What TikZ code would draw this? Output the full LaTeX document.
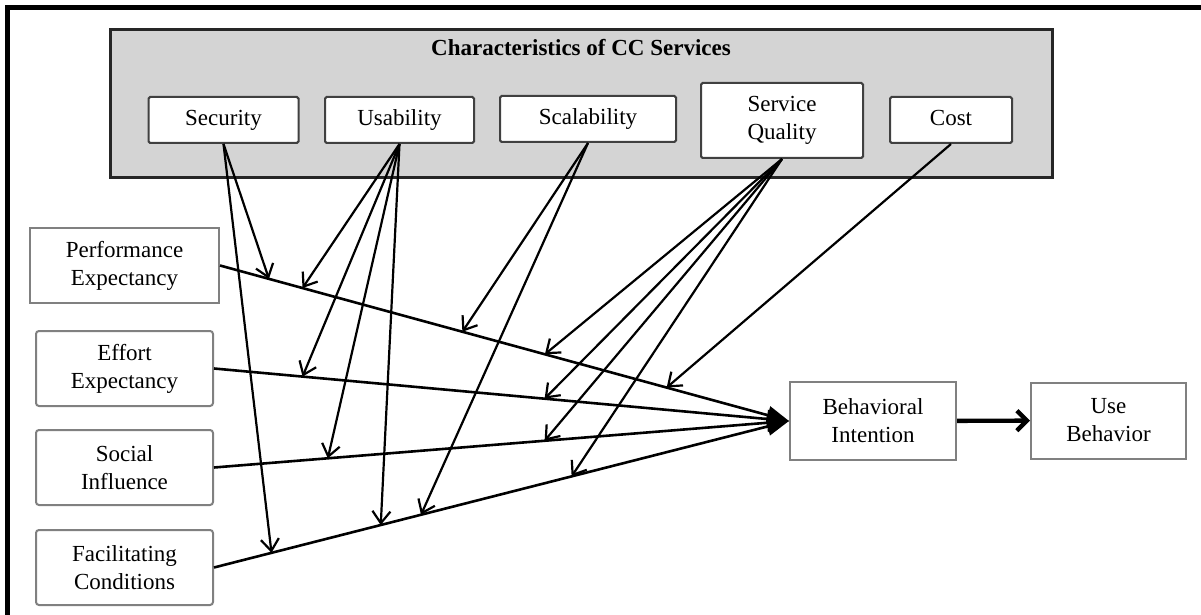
\documentclass[tikz,border=0pt]{standalone}
\usepackage{fontspec}
\setmainfont{Liberation Serif}
\usetikzlibrary{arrows.meta}

\begin{document}
\begin{tikzpicture}[
    x=0.5pt, y=-0.5pt,
    construct/.style={
        draw=black!50,
        line width=1pt,
        align=center,
        inner sep=0pt,
        font=\fontsize{11.5}{14}\selectfont
    },
    trait/.style={
        draw=black!75,
        fill=white,
        line width=1pt,
        rounded corners=0.8pt,
        align=center,
        inner sep=0pt,
        minimum height=23pt,
        text height=8pt,
        text depth=2.5pt,
        font=\fontsize{11.5}{14}\selectfont
    },
    group/.style={draw=black!85, fill=black!17, line width=1.5pt, inner sep=0pt},
    mainpath/.style={line width=1.3pt, -{Triangle[length=11pt,width=9pt]}},
    moderator/.style={line width=1.1pt, -{Straight Barb[length=6pt,width=9pt]}},
    outcome/.style={line width=2.2pt, -{Straight Barb[length=5pt,width=10pt]}}
]

\useasboundingbox (0,0) rectangle (1201,615);
\draw[line width=2.5pt] (7.5,615) -- (7.5,7.5) -- (1201,7.5);

% moderating characteristics
\node[group, minimum width=471pt, minimum height=74pt] (characteristics) at (581,104) {};
\node[font=\bfseries\fontsize{11.5}{14}\selectfont] (char_title) at (581,48) {Characteristics of CC Services};

\node[trait, minimum width=75pt] (security) at (223.5,120) {Security};
\node[trait, minimum width=74.5pt] (usability) at (399.5,120) {Usability};
\node[trait, minimum width=88pt] (scalability) at (588,119) {Scalability};
\node[trait, minimum width=81pt, minimum height=37.5pt, text height=, text depth=] (service_quality) at (782,120.5) {Service\\Quality};
\node[trait, minimum width=61pt] (cost) at (951,120) {Cost};

% UTAUT constructs
\node[construct, minimum width=94.5pt, minimum height=37.5pt] (perf_exp) at (124.5,265.5) {Performance\\Expectancy};
\node[construct, rounded corners=1.5pt, minimum width=88.5pt, minimum height=37.5pt] (effort_exp) at (124.5,368.5) {Effort\\Expectancy};
\node[construct, rounded corners=1.5pt, minimum width=88.5pt, minimum height=37.5pt] (social_inf) at (124.5,467.5) {Social\\Influence};
\node[construct, rounded corners=1.5pt, minimum width=88.5pt, minimum height=37.5pt] (facil_cond) at (124.5,567.5) {Facilitating\\Conditions};

\node[construct, minimum width=83pt, minimum height=39pt] (behav_int) at (873,421) {Behavioral\\Intention};
\node[construct, minimum width=77.5pt, minimum height=38pt] (use_beh) at (1108.5,420.5) {Use\\Behavior};

% direct paths
\draw[mainpath] (perf_exp.east) -- coordinate[pos=0.086] (pe_sec) coordinate[pos=0.145] (pe_usa)
    coordinate[pos=0.426] (pe_sca) coordinate[pos=0.571] (pe_sq) coordinate[pos=0.785] (pe_cost) (behav_int.west);
\draw[mainpath] (effort_exp.east) -- coordinate[pos=0.154] (ee_usa) coordinate[pos=0.575] (ee_sq) (behav_int.west);
\draw[mainpath] (social_inf.east) -- coordinate[pos=0.198] (si_usa) coordinate[pos=0.575] (si_sq) (behav_int.west);
\draw[mainpath] (facil_cond.east) -- coordinate[pos=0.10] (fc_sec) coordinate[pos=0.29] (fc_usa)
    coordinate[pos=0.36] (fc_sca) coordinate[pos=0.622] (fc_sq) (behav_int.west);
\draw[outcome] (behav_int) -- (use_beh);

% moderating effects
\draw[moderator] (security.south) -- (pe_sec);
\draw[moderator] (security.south) -- (fc_sec);
\draw[moderator] (usability.south) -- (pe_usa);
\draw[moderator] (usability.south) -- (ee_usa);
\draw[moderator] (usability.south) -- (si_usa);
\draw[moderator] (usability.south) -- (fc_usa);
\draw[moderator] (scalability.south) -- (pe_sca);
\draw[moderator] (scalability.south) -- (fc_sca);
\draw[moderator] (service_quality.south) -- (pe_sq);
\draw[moderator] (service_quality.south) -- (ee_sq);
\draw[moderator] (service_quality.south) -- (si_sq);
\draw[moderator] (service_quality.south) -- (fc_sq);
\draw[moderator] (cost.south) -- (pe_cost);

\end{tikzpicture}
\end{document}
